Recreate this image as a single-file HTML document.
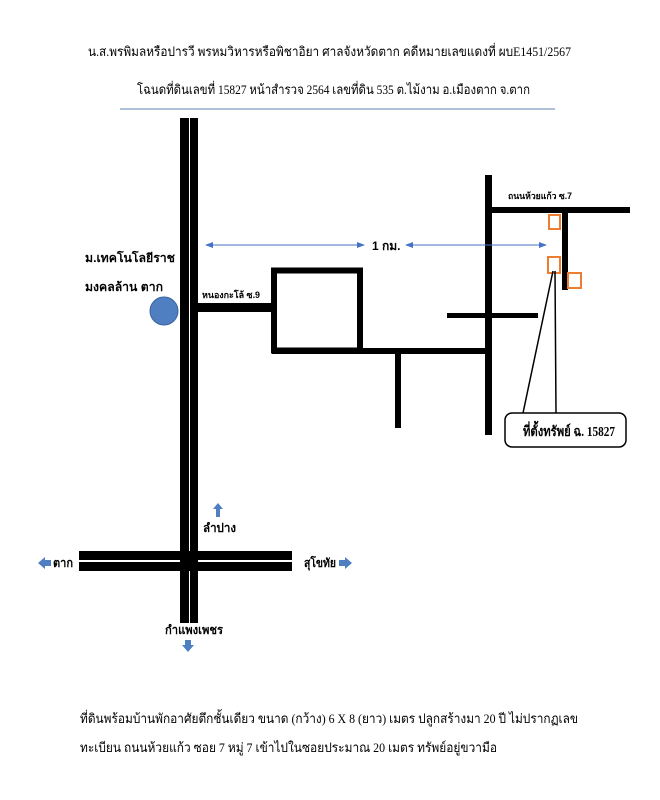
<!DOCTYPE html>
<html><head><meta charset="utf-8"><style>
body{margin:0;background:#fff;}
svg{display:block}
.t{font-family:"Liberation Serif","Noto Serif CJK SC","Noto Sans CJK SC",serif;font-size:13px;fill:#000}
.b{font-family:"Liberation Sans","Noto Sans CJK SC",sans-serif;font-weight:bold;fill:#000}
</style></head><body>
<svg width="660" height="800" viewBox="0 0 660 800">
<defs>
<marker id="ah" markerWidth="8" markerHeight="8" refX="7" refY="4" orient="auto-start-reverse" markerUnits="userSpaceOnUse"><path d="M0,1 L8,4 L0,7 z" fill="#4472c4"/></marker>
</defs>
<text class="t" x="88" y="56" textLength="483" lengthAdjust="spacingAndGlyphs">น.ส.พรพิมลหรือปารวี  พรหมวิหารหรือพิชาอิยา ศาลจังหวัดตาก คดีหมายเลขแดงที่ ผบE1451/2567</text>
<text class="t" x="137" y="94" textLength="393" lengthAdjust="spacingAndGlyphs">โฉนดที่ดินเลขที่ 15827 หน้าสำรวจ 2564  เลขที่ดิน 535 ต.ไม้งาม อ.เมืองตาก จ.ตาก</text>
<line x1="120" y1="109" x2="555" y2="109" stroke="#7f9cc0" stroke-width="1.2"/>
<rect x="180" y="118" width="9" height="505" fill="#000"/>
<rect x="190" y="118" width="8" height="505" fill="#000"/>
<rect x="79" y="551" width="213" height="9" fill="#000"/>
<rect x="79" y="562" width="213" height="9" fill="#000"/>
<rect x="180" y="551" width="18" height="20" fill="#000"/>
<rect x="198" y="303" width="76" height="9" fill="#000"/>
<rect x="274" y="270.5" width="86" height="80" fill="none" stroke="#000" stroke-width="6"/>
<rect x="272" y="348" width="218" height="6" fill="#000"/>
<rect x="395" y="350" width="6" height="78" fill="#000"/>
<rect x="485" y="175" width="7" height="260" fill="#000"/>
<rect x="485" y="207" width="145" height="6" fill="#000"/>
<rect x="447" y="313" width="91" height="5" fill="#000"/>
<rect x="562" y="207" width="6" height="83" fill="#000"/>
<rect x="549" y="215" width="11" height="14" fill="none" stroke="#ed7d31" stroke-width="2"/>
<rect x="548" y="257" width="12" height="16" fill="none" stroke="#ed7d31" stroke-width="2"/>
<rect x="568" y="273" width="13" height="15" fill="none" stroke="#ed7d31" stroke-width="2"/>
<line x1="553" y1="271" x2="523" y2="413" stroke="#000" stroke-width="1.5"/>
<line x1="555" y1="271" x2="556" y2="413" stroke="#000" stroke-width="1.5"/>
<rect x="505" y="413" width="121" height="34" rx="7" fill="#fff" stroke="#000" stroke-width="1.5"/>
<text class="t" x="523" y="436" textLength="92" lengthAdjust="spacingAndGlyphs" style="font-size:14px;font-weight:bold">ที่ตั้งทรัพย์ ฉ. 15827</text>
<line x1="206" y1="245" x2="364" y2="245" stroke="#4472c4" stroke-width="1" marker-start="url(#ah)" marker-end="url(#ah)"/>
<line x1="406" y1="245" x2="546" y2="245" stroke="#4472c4" stroke-width="1" marker-start="url(#ah)" marker-end="url(#ah)"/>
<text class="b" x="372" y="250" style="font-size:12px">1 กม.</text>
<circle cx="164" cy="311" r="14" fill="#4f7fc0" stroke="#3a65a0" stroke-width="1"/>
<text class="b" x="85" y="262" textLength="90" lengthAdjust="spacingAndGlyphs" style="font-size:12px">ม.เทคโนโลยีราช</text>
<text class="b" x="85" y="291" textLength="78" lengthAdjust="spacingAndGlyphs" style="font-size:12px">มงคลล้าน ตาก</text>
<text class="b" x="202" y="298" textLength="58" lengthAdjust="spacingAndGlyphs" style="font-size:9px">หนองกะโล้ ซ.9</text>
<text class="b" x="508" y="199" textLength="64" lengthAdjust="spacingAndGlyphs" style="font-size:9px">ถนนห้วยแก้ว ซ.7</text>
<path d="M218,503 L223,509 L220,509 L220,517 L216,517 L216,509 L213,509 z" fill="#4f7fc0"/>
<text class="b" x="203" y="532" textLength="33" lengthAdjust="spacingAndGlyphs" style="font-size:12px">ลำปาง</text>
<path d="M38,563 L45,557 L45,560 L51,560 L51,566 L45,566 L45,569 z" fill="#4f7fc0"/>
<text class="b" x="53" y="567" textLength="20" lengthAdjust="spacingAndGlyphs" style="font-size:12px">ตาก</text>
<text class="b" x="304" y="567" textLength="32" lengthAdjust="spacingAndGlyphs" style="font-size:12px">สุโขทัย</text>
<path d="M352,563 L345,557 L345,560 L339,560 L339,566 L345,566 L345,569 z" fill="#4f7fc0"/>
<text class="b" x="165" y="634" textLength="58" lengthAdjust="spacingAndGlyphs" style="font-size:12px">กำแพงเพชร</text>
<path d="M188,652 L182,645 L185,645 L185,640 L191,640 L191,645 L194,645 z" fill="#4f7fc0"/>
<text class="t" x="80" y="723" textLength="498" lengthAdjust="spacingAndGlyphs">ที่ดินพร้อมบ้านพักอาศัยตึกชั้นเดียว ขนาด (กว้าง) 6 X 8 (ยาว) เมตร  ปลูกสร้างมา 20 ปี ไม่ปรากฏเลข</text>
<text class="t" x="80" y="752" textLength="417" lengthAdjust="spacingAndGlyphs">ทะเบียน ถนนห้วยแก้ว ซอย 7 หมู่ 7   เข้าไปในซอยประมาณ 20 เมตร ทรัพย์อยู่ขวามือ</text>
</svg>
</body></html>
